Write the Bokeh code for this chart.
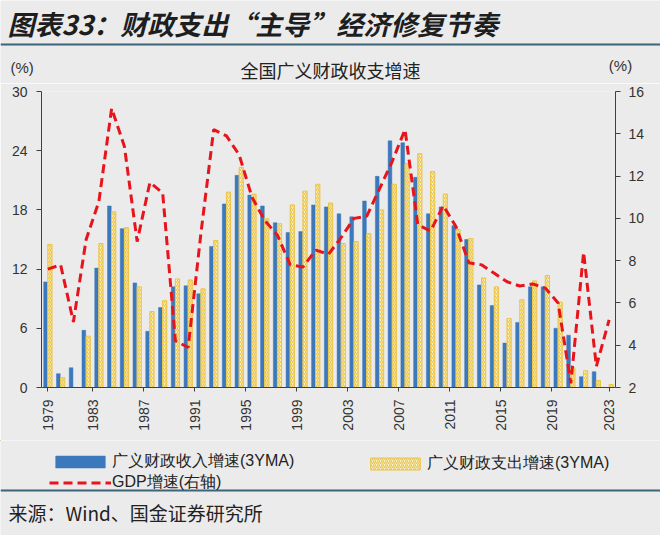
from bokeh.plotting import figure
from bokeh.layouts import column
from bokeh.models import (Range1d, LinearAxis, FixedTicker, Label, Span,
                          Legend, LegendItem, ColumnDataSource)
from bokeh.embed import file_html
from bokeh.resources import INLINE
import math

years = list(range(1979, 2024))
revenue = [10.7, 1.4, 2.0, 5.8, 12.1, 18.4, 16.1, 10.6, 5.7, 8.1,
           10.2, 10.3, 9.5, 14.3, 18.6, 21.5, 19.5, 18.4, 16.7, 15.7,
           15.8, 18.5, 18.3, 17.6, 17.3, 18.9, 21.4, 25.0, 24.8, 21.3,
           17.6, 18.3, 16.4, 15.0, 10.4, 8.3, 4.5, 6.6, 10.2, 10.2,
           6.0, 5.3, 1.1, 1.6, 0.0]
expenditure = [14.5, 1.0, 0.0, 5.2, 14.6, 17.8, 16.2, 10.2, 7.7, 8.8,
               11.0, 10.9, 10.0, 14.9, 19.8, 22.3, 19.6, 17.1, 16.6, 18.5,
               19.9, 20.6, 18.7, 14.6, 14.8, 15.6, 18.0, 20.6, 22.7, 23.7,
               21.9, 19.6, 16.0, 15.1, 11.1, 10.2, 7.0, 8.9, 10.8, 11.35,
               8.65, 2.0, 1.7, 0.7, 0.3]
gdp = [7.6, 7.8, 5.1, 9.0, 10.8, 15.2, 13.4, 8.9, 11.7, 11.2,
       4.2, 3.9, 9.3, 14.2, 13.9, 13.0, 11.0, 9.9, 9.2, 7.8,
       7.7, 8.5, 8.3, 9.1, 10.0, 10.1, 11.4, 12.7, 14.2, 9.7,
       9.4, 10.6, 9.6, 7.9, 7.8, 7.4, 7.0, 6.8, 6.9, 6.7,
       6.0, 2.2, 8.4, 3.0, 5.2]
left_ticks = [0, 6, 12, 18, 24, 30]
right_ticks = [2, 4, 6, 8, 10, 12, 14, 16]
x_tick_labels = ["1979", "1983", "1987", "1991", "1995", "1999",
                 "2003", "2007", "2011", "2015", "2019", "2023"]

title_text = "图表33：财政支出“主导”经济修复节奏"
subtitle_text = "全国广义财政收支增速"
source_text = "来源：Wind、国金证券研究所"
rev_name = "广义财政收入增速(3YMA)"
exp_name = "广义财政支出增速(3YMA)"
gdp_name = "GDP增速(右轴)"

BG = "#ebebeb"
BLUE = "#3b78bc"
YEL = "#e9c54a"
YFILL = "#faf2d6"
RED = "#e8141c"
RULE = "#3d6478"
LAT = "Liberation Sans"
CJK = "Noto Sans CJK SC"

W = 660
H_TOP, H_MAIN, H_BOT = 83, 357, 95


def blank(h):
    f = figure(width=W, height=h, output_backend="svg", toolbar_location=None,
               x_range=Range1d(0, W), y_range=Range1d(h, 0),
               min_border=0, min_border_left=0, min_border_right=0,
               min_border_top=0, min_border_bottom=0, frame_align=False)
    f.axis.visible = False
    f.grid.visible = False
    f.background_fill_color = BG
    f.border_fill_color = BG
    f.outline_line_color = None
    return f


def lab(f, x, y, t, size, font, align="left", style="normal", color="#333333"):
    f.add_layout(Label(x=x, y=y, text=t, text_font=font, text_font_size=size,
                       text_font_style=style, text_color=color,
                       text_align=align, text_baseline="middle"))


# ---------- top strip: title, rule, subtitle, unit labels ----------
top = blank(H_TOP)
lab(top, 7, 23, title_text, "27px", CJK, style="bold italic", color="#1e1e1e")
top.add_layout(Span(location=44, dimension="width", line_color=RULE, line_width=2))
lab(top, 10, 67, "(%)", "15px", LAT)
lab(top, 620, 65, "(%)", "15px", LAT, align="center")
lab(top, 330, 69, subtitle_text, "18px", CJK, align="center", color="#222222")

# ---------- main chart ----------
p = figure(width=W, height=H_MAIN, output_backend="svg", toolbar_location=None,
           x_range=Range1d(1978.5, 2023.5), y_range=Range1d(0, 30),
           min_border_left=41, min_border_right=45, min_border_top=8,
           min_border_bottom=53, frame_align=False)
p.background_fill_color = BG
p.border_fill_color = BG
p.outline_line_color = None
p.grid.visible = False
p.extra_y_ranges = {"right": Range1d(2, 16)}

src = ColumnDataSource(dict(
    x=years, rev=revenue, exp=expenditure, gdp=gdp,
    xb=[y - 0.18 for y in years], xy=[y + 0.16 for y in years]))

bar_rev = dict(fill_color=BLUE, line_color=BLUE, line_width=0.5)
bar_exp = dict(fill_color=YFILL, line_color=YEL, line_width=1,
               hatch_pattern="right_diagonal_line", hatch_color=YEL,
               hatch_scale=4, hatch_weight=1.2)
line_gdp = dict(line_color=RED, line_width=3, line_dash="9 5")

p.vbar(x="xb", top="rev", width=0.29, source=src, **bar_rev)
p.vbar(x="xy", top="exp", width=0.33, source=src, **bar_exp)
p.line(x="x", y="gdp", source=src, y_range_name="right", **line_gdp)


def style_axis(ax):
    ax.axis_line_color = "#404040"
    ax.major_tick_line_color = "#404040"
    ax.minor_tick_line_color = None
    ax.major_tick_out = 5
    ax.major_tick_in = 0
    ax.major_label_text_font = LAT
    ax.major_label_text_font_size = "14px"
    ax.major_label_text_color = "#333333"


style_axis(p.xaxis[0])
style_axis(p.yaxis[0])
p.yaxis[0].ticker = FixedTicker(ticks=left_ticks)
p.yaxis[0].major_label_standoff = 9

xt = [1979] + [1982.5 + 4 * i for i in range(10)] + [2023]
p.xaxis[0].ticker = FixedTicker(ticks=xt)
p.xaxis[0].major_label_overrides = {t: s for t, s in zip(xt, x_tick_labels)}
p.xaxis[0].major_label_orientation = math.pi / 2
p.xaxis[0].major_label_standoff = 8
p.xaxis[0].major_tick_out = 4

ry = LinearAxis(y_range_name="right", ticker=FixedTicker(ticks=right_ticks))
style_axis(ry)
ry.major_label_standoff = 8
p.add_layout(ry, "right")

# ---------- bottom strip: legend, rule, source ----------
bot = blank(H_BOT)
dummy = ColumnDataSource(dict(x=[-100, -90], y=[-100, -90]))
d_rev = bot.vbar(x="x", top="y", width=1, source=dummy, **bar_rev)
d_exp = bot.vbar(x="x", top="y", width=1, source=dummy, **bar_exp)
d_gdp = bot.line(x="x", y="y", source=dummy, **line_gdp)


def make_legend(f, items, loc):
    lg = Legend(items=items, location=loc, orientation="vertical",
                glyph_width=62, glyph_height=15, label_height=18,
                label_standoff=1, spacing=0, padding=0, margin=0,
                background_fill_alpha=0, border_line_color=None,
                label_text_font=LAT, label_text_font_size="16px",
                label_text_color="#222222")
    f.add_layout(lg, "center")


make_legend(bot, [LegendItem(label=rev_name, renderers=[d_rev]),
                  LegendItem(label=gdp_name, renderers=[d_gdp])], (49, 42))
make_legend(bot, [LegendItem(label=exp_name, renderers=[d_exp])], (364, 61))
bot.add_layout(Span(location=50, dimension="width", line_color=RULE, line_width=2))
lab(bot, 8, 72, source_text, "19px", CJK, color="#222222")

page = column(top, p, bot, spacing=0)
open("out.html", "w").write(file_html(page, INLINE))
